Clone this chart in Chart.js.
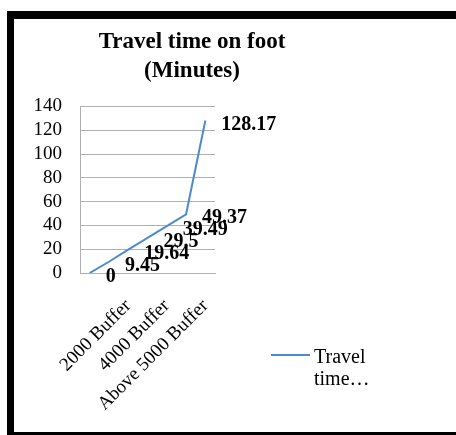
<!DOCTYPE html>
<html>
<head>
<meta charset="utf-8">
<script src="https://cdn.jsdelivr.net/npm/chart.js@4/dist/chart.umd.min.js"></script>
<style>
  html, body { margin: 0; padding: 0; background: #fff; width: 456px; height: 435px; overflow: hidden; }
  #frame {
    position: absolute; left: 7px; top: 11px; width: 449px; height: 413px;
    border-top: 8px solid #000; border-left: 7px solid #000; border-bottom: 3px solid #000;
  }
  #wrap { position: absolute; left: 0; top: 0; width: 356px; height: 413px; }
  canvas { display: block; }
</style>
</head>
<body>
<div id="frame"><div id="wrap"><canvas id="c" width="356" height="413"></canvas></div></div>
<script>
// Walking time by distance buffer
const categories = ['0 Buffer', '1000 Buffer', '2000 Buffer', '3000 Buffer', '4000 Buffer', '5000 Buffer', 'Above 5000 Buffer'];
const travelMinutes = [0, 9.45, 19.64, 29.5, 39.49, 49.37, 128.17];
const labeledTickIndexes = [2, 4, 6];
const yTickMin = 0;
const yTickMax = 140;
const yTickStep = 20;
const titleLines = ['Travel time on foot', '(Minutes)'];
const legendLines = ['Travel', 'time…'];

const SERIF = '"Liberation Serif", "Times New Roman", serif';
const LINE_BLUE = '#4f8ad0';
const GRID_GREY = '#b0b0b0';

// Value written to the right of every point
const valueLabels = {
  id: 'valueLabels',
  afterDatasetsDraw(chart) {
    const ctx = chart.ctx;
    const ds = chart.data.datasets[0];
    const meta = chart.getDatasetMeta(0);
    ctx.save();
    ctx.font = 'bold 20px ' + SERIF;
    ctx.fillStyle = '#000';
    ctx.textAlign = 'left';
    ctx.textBaseline = 'middle';
    meta.data.forEach((pt, i) => {
      ctx.fillText(String(ds.data[i]), pt.x + 16, pt.y + 4);
    });
    ctx.restore();
  }
};

// Right-hand legend column: reserves layout space and draws the series key
const sideLegend = {
  id: 'sideLegend',
  beforeInit(chart) {
    const box = {
      position: 'right',
      weight: 10,
      fullSize: false,
      options: {},
      left: 0, top: 0, right: 0, bottom: 0, width: 0, height: 0,
      isHorizontal() { return false; },
      update(maxWidth, maxHeight) { this.width = 155; this.height = maxHeight; },
      draw() {
        const ctx = chart.ctx;
        const x0 = this.left + 56;
        const yLine = chart.chartArea.bottom + 82;
        ctx.save();
        ctx.strokeStyle = LINE_BLUE;
        ctx.lineWidth = 2;
        ctx.beginPath();
        ctx.moveTo(x0, yLine);
        ctx.lineTo(x0 + 39, yLine);
        ctx.stroke();
        ctx.fillStyle = '#000';
        ctx.font = '20px ' + SERIF;
        ctx.textAlign = 'left';
        ctx.textBaseline = 'alphabetic';
        legendLines.forEach((t, i) => ctx.fillText(t, x0 + 43, yLine + 8 + i * 22));
        ctx.restore();
      }
    };
    Chart.layouts.addBox(chart, box);
  }
};

new Chart(document.getElementById('c'), {
  type: 'line',
  data: {
    labels: categories,
    datasets: [{
      label: legendLines.join(' '),
      data: travelMinutes,
      borderColor: LINE_BLUE,
      backgroundColor: LINE_BLUE,
      borderWidth: 2,
      pointRadius: 0,
      tension: 0,
      fill: false
    }]
  },
  options: {
    responsive: false,
    animation: false,
    color: '#000',
    layout: { padding: 0 },
    plugins: {
      legend: { display: false },
      tooltip: { enabled: false },
      title: {
        display: true,
        text: titleLines,
        color: '#000',
        font: { family: SERIF, size: 23, weight: 'bold', lineHeight: 1.25 },
        padding: { top: 9, bottom: 21 }
      }
    },
    scales: {
      x: {
        offset: true,
        grid: { display: false },
        border: { display: true, color: GRID_GREY, width: 1 },
        ticks: {
          autoSkip: false,
          minRotation: 45,
          maxRotation: 45,
          padding: 14,
          color: '#000',
          font: { family: SERIF, size: 19 },
          callback: (v, i) => labeledTickIndexes.includes(i) ? categories[i] : ''
        },
        afterFit(scale) { scale.height = 159; }
      },
      y: {
        min: yTickMin,
        max: yTickMax,
        grid: { color: GRID_GREY, drawTicks: false },
        border: { display: true, color: GRID_GREY, width: 1 },
        ticks: {
          autoSkip: false,
          stepSize: yTickStep,
          padding: 18,
          color: '#000',
          font: { family: SERIF, size: 19 }
        },
        afterFit(scale) { scale.width = 66; }
      }
    }
  },
  plugins: [valueLabels, sideLegend]
});
</script>
</body>
</html>
